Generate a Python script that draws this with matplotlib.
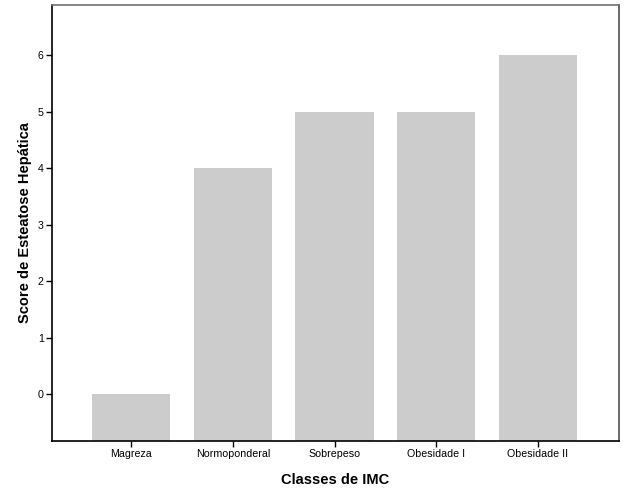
import numpy as np
import matplotlib.pyplot as plt

plt.rcParams['font.family'] = ['Liberation Sans', 'DejaVu Sans']

# Score per BMI class
classes = ['Magreza', 'Normoponderal', 'Sobrepeso', 'Obesidade I', 'Obesidade II']
scores = [0, 4, 5, 5, 6]

ymin, ymax = -0.83, 6.89

fig = plt.figure(figsize=(6.26, 5.01), dpi=100)
ax = fig.add_axes([0.083, 0.12, 0.906, 0.87])

x = np.arange(len(classes))
# bars in the original start at the bottom of the axis, not at zero
heights = [s - ymin for s in scores]
ax.bar(x, heights, bottom=ymin, width=0.77, color='#cccccc', edgecolor='none')

ax.set_ylim(ymin, ymax)
ax.set_xlim(-0.78, 4.8)
ax.set_yticks(range(0, 7))
ax.set_xticks(x)
ax.set_xticklabels(classes)
ax.tick_params(axis='both', labelsize=7.7, length=4, width=1, direction='out', pad=2)

ax.spines['left'].set_color('black')
ax.spines['bottom'].set_color('black')
ax.spines['top'].set_color('#707070')
ax.spines['right'].set_color('#505050')
for sp in ax.spines.values():
    sp.set_linewidth(1.2)

ax.set_xlabel('Classes de IMC', fontsize=10.5, fontweight='bold', labelpad=10)
ax.set_ylabel('Score de Esteatose Hepática', fontsize=10.5, fontweight='bold', labelpad=4)

fig.savefig('out.png', dpi=100)
